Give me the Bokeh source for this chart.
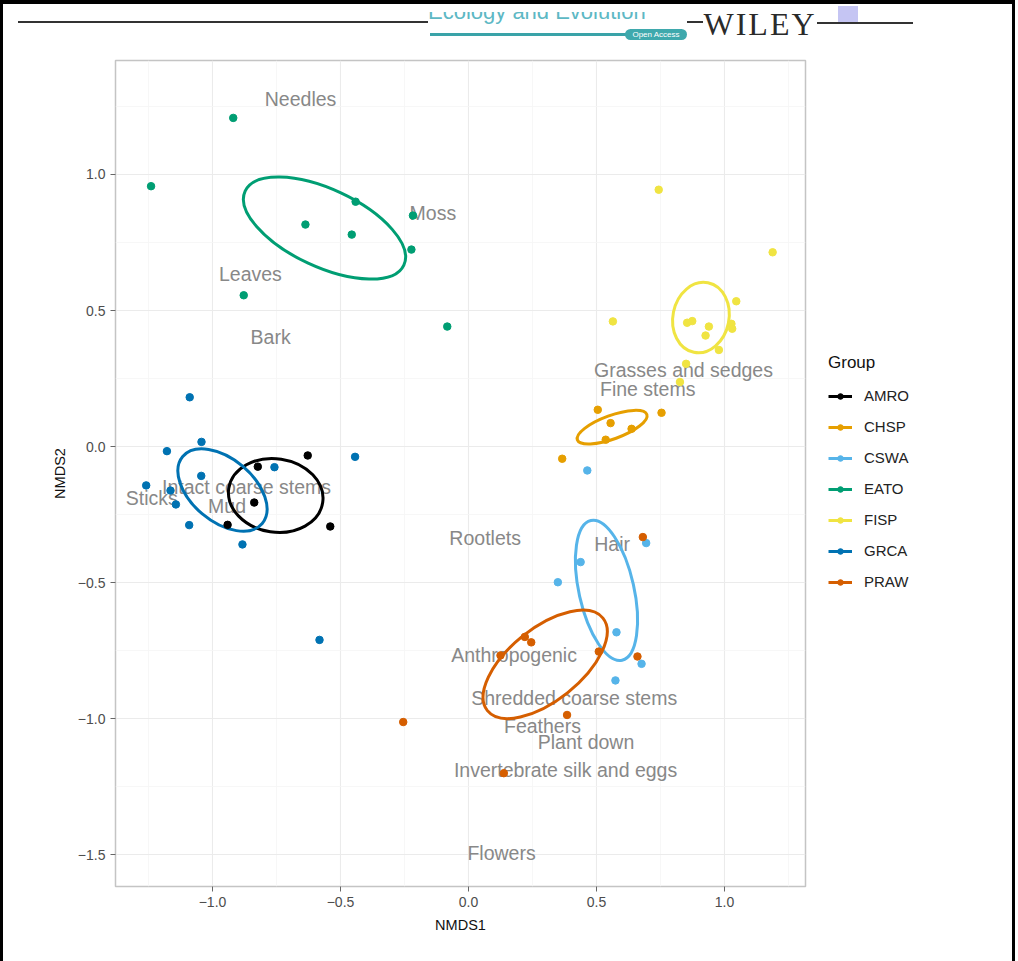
from bokeh.plotting import figure
from bokeh.models import (Range1d, FixedTicker, Legend, LegendItem, ColumnDataSource,
                          Spacer, Div)
from bokeh.layouts import column, row
from bokeh.core.properties import value
from bokeh.embed import file_html
from bokeh.resources import INLINE

# ---- data -----------------------------------------------------------------
groups = ["AMRO", "CHSP", "CSWA", "EATO", "FISP", "GRCA", "PRAW"]
group_colors = ["#000000", "#E69F00", "#56B4E9", "#009E73", "#F0E442", "#0072B2", "#D55E00"]

# nest scores per species (NMDS1, NMDS2)
amro_x = [-0.823, -0.628, -0.837, -0.941, -0.540]
amro_y = [-0.074, -0.033, -0.206, -0.288, -0.294]
chsp_x = [0.505, 0.555, 0.637, 0.536, 0.754, 0.366]
chsp_y = [0.135, 0.086, 0.065, 0.025, 0.124, -0.045]
cswa_x = [0.464, 0.438, 0.349, 0.694, 0.578, 0.676, 0.574]
cswa_y = [-0.088, -0.425, -0.499, -0.355, -0.683, -0.799, -0.860]
eato_x = [-0.919, -1.240, -0.441, -0.637, -0.456, -0.217, -0.223, -0.878, -0.083]
eato_y = [1.208, 0.957, 0.900, 0.816, 0.779, 0.849, 0.724, 0.556, 0.441]
fisp_x = [0.743, 1.188, 0.564, 1.046, 0.854, 0.874, 0.939, 0.926, 1.027, 1.030, 0.978, 0.850, 0.826]
fisp_y = [0.944, 0.714, 0.460, 0.534, 0.455, 0.461, 0.441, 0.408, 0.451, 0.433, 0.355, 0.304, 0.237]
grca_x = [-1.089, -1.043, -1.178, -1.044, -1.259, -1.164, -1.143, -1.091, -0.758, -0.443, -0.883, -0.582]
grca_y = [0.181, 0.017, -0.017, -0.108, -0.143, -0.162, -0.213, -0.289, -0.076, -0.038, -0.360, -0.711]
praw_x = [0.681, 0.220, 0.245, 0.509, 0.660, 0.385, -0.255, 0.138, 0.125]
praw_y = [-0.333, -0.700, -0.720, -0.754, -0.772, -0.987, -1.013, -1.201, -0.768]

points_x = [amro_x, chsp_x, cswa_x, eato_x, fisp_x, grca_x, praw_x]
points_y = [amro_y, chsp_y, cswa_y, eato_y, fisp_y, grca_y, praw_y]

# group ellipses: centre, axis lengths (NMDS units) and rotation (rad)
ell_cx = [-0.753, 0.561, 0.539, -0.5625, 0.908, -0.961, 0.2995]
ell_cy = [-0.180, 0.071, -0.529, 0.803, 0.474, -0.160, -0.801]
ell_w = [0.371, 0.289, 0.215, 0.684, 0.219, 0.406, 0.578]
ell_h = [0.270, 0.0865, 0.526, 0.285, 0.261, 0.230, 0.266]
ell_angle = [-0.15, 0.35, 0.22, -0.436, -0.20, -0.70, 0.675]

# nest material scores
material = ["Needles", "Moss", "Leaves", "Bark", "Grasses and sedges", "Fine stems",
            "Intact coarse stems", "Sticks", "Mud", "Rootlets", "Hair", "Anthropogenic",
            "Shredded coarse stems", "Feathers", "Plant down",
            "Invertebrate silk and eggs", "Flowers"]
material_x = [-0.656, -0.139, -0.852, -0.773, 0.840, 0.700, -0.867, -1.237, -0.943,
              0.065, 0.561, 0.178, 0.413, 0.289, 0.459, 0.379, 0.129]
material_y = [1.276, 0.857, 0.636, 0.404, 0.283, 0.213, -0.150, -0.191, -0.217,
              -0.335, -0.357, -0.765, -0.923, -1.026, -1.087, -1.189, -1.493]

x_ticks = [-1.0, -0.5, 0.0, 0.5, 1.0]
x_tick_labels = ["\u22121.0", "\u22120.5", "0.0", "0.5", "1.0"]
x_minor = [-1.25, -0.75, -0.25, 0.25, 0.75, 1.25]
y_ticks = [-1.5, -1.0, -0.5, 0.0, 0.5, 1.0]
y_tick_labels = ["\u22121.5", "\u22121.0", "\u22120.5", "0.0", "0.5", "1.0"]
y_minor = [-1.25, -0.75, -0.25, 0.25, 0.75, 1.25]

FONT = "Liberation Sans"
BAR = 3                       # width of the dark page rule at each side
INNER_W = 1009                # width between the side rules
HEAD_H = 58                   # journal header strip
MAIN_H = 903
PLOT_W = 804                  # scatter plot canvas; the rest holds the legend
KEY_W = INNER_W - PLOT_W
NAN = float("nan")

# ---- scatter plot -----------------------------------------------------------
p = figure(width=PLOT_W, height=MAIN_H,
           x_range=Range1d(-1.3789, 1.3164), y_range=Range1d(-1.6176, 1.4191),
           output_backend="svg", toolbar_location=None,
           min_border_left=112, min_border_right=2,
           min_border_top=2, min_border_bottom=75)
p.background_fill_color = "white"
p.border_fill_color = "white"
p.outline_line_color = "#C4C4C4"
p.outline_line_width = 1.5

for ax, ticks, labels, minor in ((p.xaxis, x_ticks, x_tick_labels, x_minor),
                                 (p.yaxis, y_ticks, y_tick_labels, y_minor)):
    ax.ticker = FixedTicker(ticks=ticks, minor_ticks=minor)
    ax.major_label_overrides = dict(zip(ticks, labels))
    ax.axis_line_color = None
    ax.major_tick_line_color = "#666666"
    ax.major_tick_in = 0
    ax.major_tick_out = 5
    ax.minor_tick_line_color = None
    ax.major_label_text_font = FONT
    ax.major_label_text_font_size = "14px"
    ax.major_label_text_color = "#4D4D4D"
    ax.major_label_standoff = 5
    ax.axis_label_text_font = FONT
    ax.axis_label_text_font_size = "14.5px"
    ax.axis_label_text_font_style = "normal"
    ax.axis_label_text_color = "#111111"
    ax.axis_label_standoff = 7

p.xaxis.axis_label = "NMDS1"
p.yaxis.axis_label = "NMDS2"

for g in (p.xgrid, p.ygrid):
    g.grid_line_color = "#EBEBEB"
    g.grid_line_width = 1.1
    g.minor_grid_line_color = "#F5F5F5"
    g.minor_grid_line_width = 0.8

# material names
p.text(x=material_x, y=material_y, text=material, text_align="center",
       text_baseline="middle", text_font=value(FONT), text_font_size="19.5px",
       text_color="#888888")

# group ellipses
ell_src = ColumnDataSource(dict(x=ell_cx, y=ell_cy, w=ell_w, h=ell_h,
                                a=ell_angle, c=group_colors))
p.ellipse(x="x", y="y", width="w", height="h", angle="a", source=ell_src,
          fill_color=None, line_color="c", line_width=3)

# points
for col, xs, ys in zip(group_colors, points_x, points_y):
    p.scatter(x=xs, y=ys, size=7.5, fill_color=col, line_color=col)

# ---- legend panel -------------------------------------------------------------
k = figure(width=KEY_W, height=MAIN_H, x_range=Range1d(0, 1), y_range=Range1d(0, 1),
           output_backend="svg", toolbar_location=None,
           x_axis_type=None, y_axis_type=None,
           min_border_left=0, min_border_right=0,
           min_border_top=2, min_border_bottom=75)
k.outline_line_color = None
k.background_fill_color = "white"
k.border_fill_color = "white"
k.grid.visible = False

# key glyphs only: one undefined (NaN) row each, so nothing is plotted
items = []
for name, col in zip(groups, group_colors):
    key_line = k.line(x=[NAN], y=[NAN], line_color=col, line_width=3)
    key_dot = k.scatter(x=[NAN], y=[NAN], size=6, fill_color=col, line_color=col)
    items.append(LegendItem(label=name, renderers=[key_line, key_dot]))

legend = Legend(items=items, title="Group", location=(21, 294),
                border_line_color=None, background_fill_alpha=0,
                padding=0, margin=0, spacing=10,
                glyph_width=24, glyph_height=14, label_height=21,
                label_standoff=12, label_text_font=FONT,
                label_text_font_size="15px", label_text_color="#222222",
                title_text_font=FONT, title_text_font_size="17px",
                title_text_font_style="normal", title_text_color="#111111",
                title_standoff=12)
k.add_layout(legend)

# ---- journal header strip ---------------------------------------------------
header_html = """
<div style="position:relative;width:1009px;height:58px;overflow:hidden;background:white;">
  <div style="position:absolute;left:425px;top:1.4px;line-height:22px;white-space:nowrap;
              font-family:'Liberation Sans';font-size:22px;color:#5DB8C4;">Ecology and Evolution</div>
  <div style="position:absolute;left:0;top:0;width:1009px;height:12px;background:#fff;"></div>
  <div style="position:absolute;left:0;top:0;width:1009px;height:4px;background:#000;"></div>
  <div style="position:absolute;left:15px;top:21px;width:410px;height:2px;background:#333;"></div>
  <div style="position:absolute;left:427px;top:33px;width:196px;height:3px;background:#3AA3A8;"></div>
  <div style="position:absolute;left:622px;top:29px;width:62px;height:11px;border-radius:6px;
              background:#3FA9AD;color:#fff;font-family:'Liberation Sans';font-size:8px;
              line-height:11px;text-align:center;white-space:nowrap;">Open Access</div>
  <div style="position:absolute;left:684px;top:21px;width:16px;height:2px;background:#333;"></div>
  <div style="position:absolute;left:835px;top:6px;width:20px;height:17px;background:#C5C5F3;"></div>
  <div style="position:absolute;left:814px;top:21.5px;width:96px;height:2px;background:#333;"></div>
  <div style="position:absolute;left:657px;top:8.2px;width:200px;text-align:center;line-height:32px;
              letter-spacing:2px;font-family:'Liberation Serif';font-size:32px;
              color:#2A2A2A;">WILEY</div>
</div>
"""
header = Div(text=header_html, width=INNER_W, height=HEAD_H,
             styles={"margin": "0", "padding": "0", "overflow": "hidden"})

side_l = Spacer(width=BAR, height=HEAD_H + MAIN_H, styles={"background-color": "black"})
side_r = Spacer(width=BAR, height=HEAD_H + MAIN_H, styles={"background-color": "black"})
page = row(side_l, column(header, row(p, k, spacing=0), spacing=0), side_r, spacing=0)

open("out.html", "w").write(file_html(page, INLINE))
